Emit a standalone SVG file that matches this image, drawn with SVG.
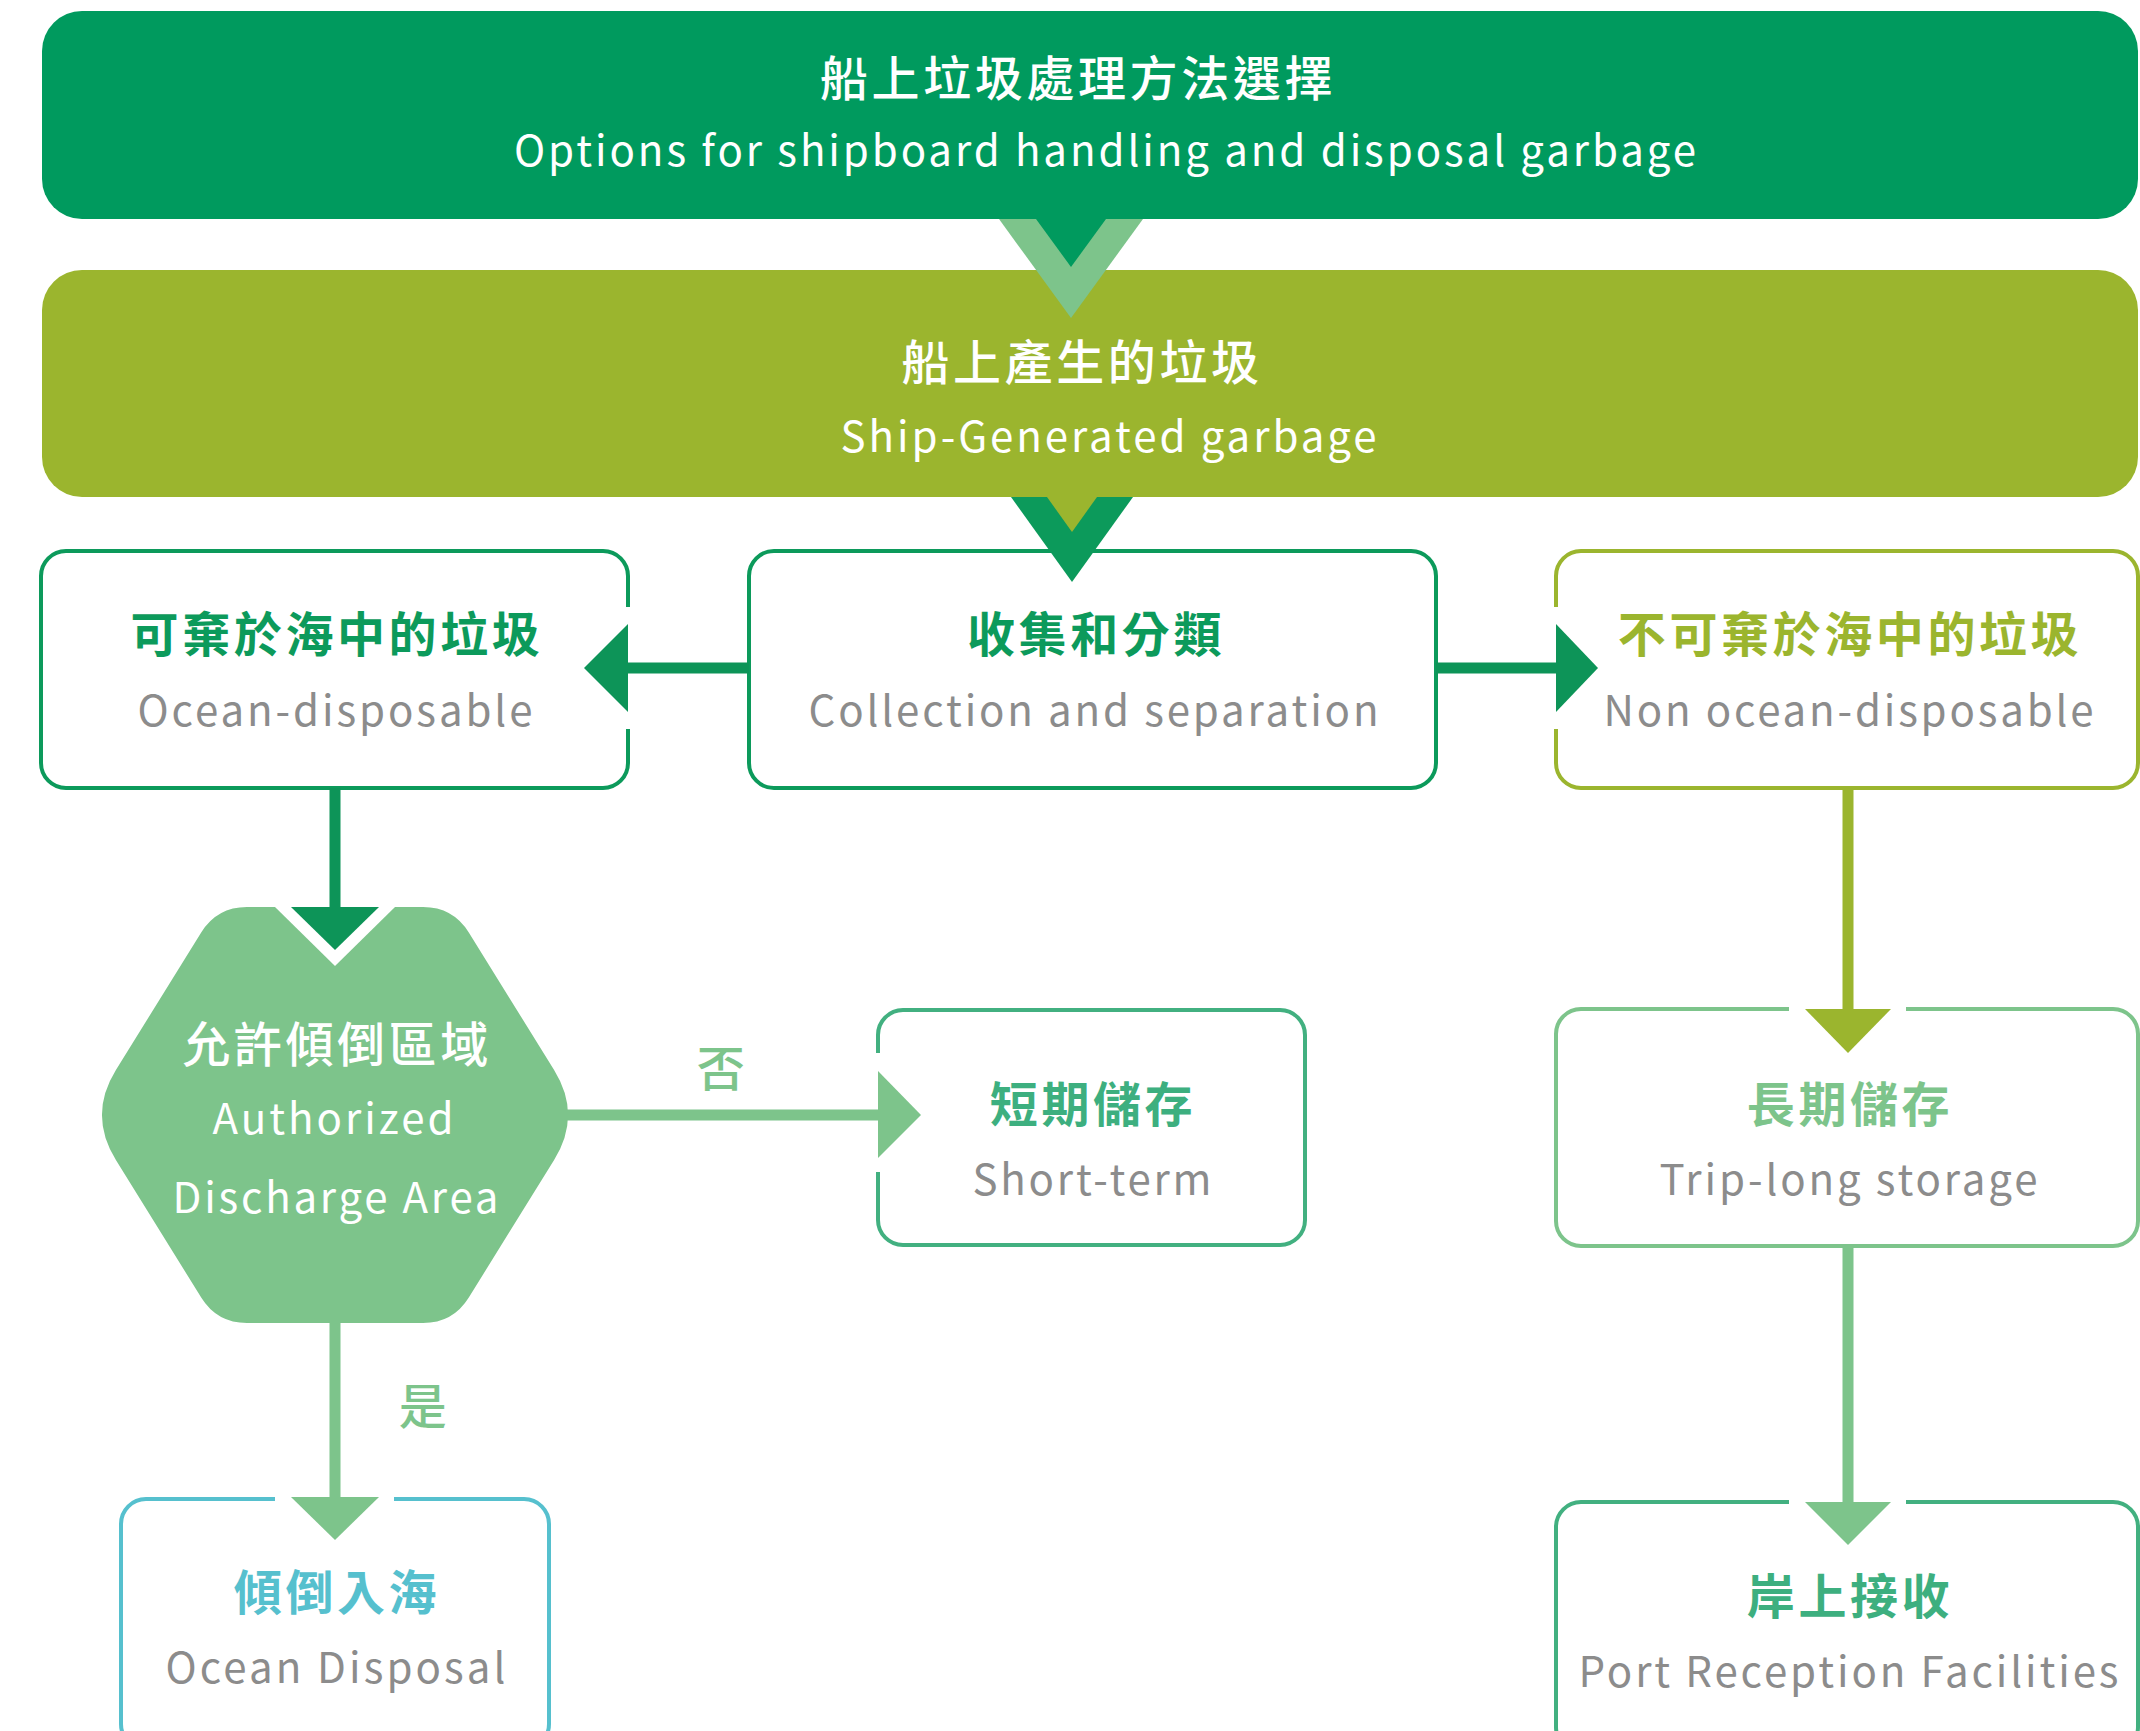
<svg xmlns="http://www.w3.org/2000/svg" width="2140" height="1731" viewBox="0 0 2140 1731">
<style>
text{font-family:"Noto Sans CJK TC","Noto Sans",sans-serif;text-anchor:middle}
.zh{font-size:48px;letter-spacing:3.6px}
.en{font-size:42px}
.b{font-weight:700}
.m{font-weight:500}
.w{fill:#ffffff}
.g{fill:#8c8c8c}
.box{fill:#ffffff;stroke-width:4}
</style>
<rect width="2140" height="1731" fill="#ffffff"/>

<g id="node-options">
<rect x="42" y="11" width="2096" height="208" rx="40" fill="#009a5e"/>
<text class="zh w m" x="1078" y="96">船上垃圾處理方法選擇</text>
<text class="en w" x="1105" y="166" textLength="1182" lengthAdjust="spacing">Options for shipboard handling and disposal garbage</text>
</g>

<g id="node-generated">
<rect x="42" y="270" width="2096" height="227" rx="40" fill="#9bb52e"/>
<text class="zh w m" x="1082" y="380">船上產生的垃圾</text>
<text class="en w" x="1108.5" y="452" textLength="536" lengthAdjust="spacing">Ship-Generated garbage</text>
</g>

<g id="node-ocean-disposable">
<rect class="box" x="41" y="551" width="587" height="237" rx="25" stroke="#0c9a5b"/>
<text class="zh b" x="337" y="652" fill="#0c9a5b">可棄於海中的垃圾</text>
<text class="en g" x="335" y="726" textLength="395" lengthAdjust="spacing">Ocean-disposable</text>
</g>

<g id="node-collection">
<rect class="box" x="749" y="551" width="687" height="237" rx="25" stroke="#0c9a5b"/>
<text class="zh b" x="1096" y="652" fill="#0c9a5b">收集和分類</text>
<text class="en g" x="1093.5" y="726" textLength="570" lengthAdjust="spacing">Collection and separation</text>
</g>

<g id="node-non-ocean">
<rect class="box" x="1556" y="551" width="582" height="237" rx="25" stroke="#9bb52e"/>
<text class="zh b" x="1850" y="652" fill="#9bb52e">不可棄於海中的垃圾</text>
<text class="en g" x="1848.5" y="726" textLength="490" lengthAdjust="spacing">Non ocean-disposable</text>
</g>

<g id="node-authorized">
<path d="M247,907 L423,907 Q453,907 468.8,932.5 L554.1,1070 Q582,1115 554.1,1160 L468.8,1297.5 Q453,1323 423,1323 L247,1323 Q217,1323 201.2,1297.5 L115.9,1160 Q88,1115 115.9,1070 L201.2,932.5 Q217,907 247,907 Z" fill="#7dc48b"/>
<text class="zh w m" x="337" y="1062">允許傾倒區域</text>
<text class="en w" x="333" y="1134" textLength="241" lengthAdjust="spacing">Authorized</text>
<text class="en w" x="335.5" y="1213" textLength="326" lengthAdjust="spacing">Discharge Area</text>
</g>

<g id="node-short-term">
<rect class="box" x="878" y="1010" width="427" height="235" rx="25" stroke="#42b080"/>
<text class="zh b" x="1093" y="1122" fill="#3daf7f">短期儲存</text>
<text class="en g" x="1092" y="1195" textLength="239" lengthAdjust="spacing">Short-term</text>
</g>

<g id="node-long-term">
<rect class="box" x="1556" y="1009" width="582" height="237" rx="25" stroke="#7dc48b"/>
<text class="zh b" x="1850" y="1122" fill="#7dc48b">長期儲存</text>
<text class="en g" x="1848.5" y="1195" textLength="378" lengthAdjust="spacing">Trip-long storage</text>
</g>

<g id="node-ocean-disposal">
<rect class="box" x="121" y="1499" width="428" height="250" rx="25" stroke="#56c0ce"/>
<text class="zh b" x="337" y="1610" fill="#56c0ce">傾倒入海</text>
<text class="en g" x="335.5" y="1683" textLength="340" lengthAdjust="spacing">Ocean Disposal</text>
</g>

<g id="node-port">
<rect class="box" x="1556" y="1502" width="582" height="250" rx="25" stroke="#42b080"/>
<text class="zh b" x="1850" y="1614" fill="#3daf7f">岸上接收</text>
<text class="en g" x="1848.5" y="1687" textLength="540" lengthAdjust="spacing">Port Reception Facilities</text>
</g>

<g id="connectors">
<!-- options -> generated -->
<polygon points="999,219 1143,219 1071,318" fill="#7dc48b"/>
<polygon points="1036,219 1106,219 1071,267" fill="#009a5e"/>
<!-- generated -> collection -->
<polygon points="1011,497 1133,497 1072,582" fill="#0c9a5b"/>
<polygon points="1047,497 1097,497 1072,532" fill="#9bb52e"/>
<!-- collection -> ocean-disposable -->
<rect x="620" y="607" width="16" height="122" fill="#ffffff"/>
<line x1="749" y1="668" x2="626" y2="668" stroke="#0d9458" stroke-width="11"/>
<polygon points="628,624 628,712 584,668" fill="#0d9458"/>
<!-- collection -> non-ocean -->
<rect x="1548" y="607" width="16" height="122" fill="#ffffff"/>
<line x1="1436" y1="668" x2="1558" y2="668" stroke="#0d9458" stroke-width="11"/>
<polygon points="1556,624 1556,712 1598,668" fill="#0d9458"/>
<!-- ocean-disposable -> authorized -->
<line x1="335" y1="788" x2="335" y2="909" stroke="#0d9458" stroke-width="11"/>
<polygon points="275,907 395,907 335,966" fill="#ffffff"/>
<polygon points="291,907 379,907 335,950" fill="#0d9458"/>
<!-- authorized -> short-term (否) -->
<rect x="870" y="1053" width="16" height="119" fill="#ffffff"/>
<line x1="560" y1="1115" x2="880" y2="1115" stroke="#7dc48b" stroke-width="11"/>
<polygon points="878,1071 878,1158 921,1115" fill="#7dc48b"/>
<text class="zh m" x="722.5" y="1086" fill="#7dc48b" letter-spacing="0">否</text>
<!-- authorized -> ocean disposal (是) -->
<rect x="275" y="1493" width="119" height="12" fill="#ffffff"/>
<line x1="335" y1="1320" x2="335" y2="1499" stroke="#7dc48b" stroke-width="11"/>
<polygon points="291,1497 379,1497 335,1540" fill="#7dc48b"/>
<text class="zh m" x="424.5" y="1424" fill="#7dc48b" letter-spacing="0">是</text>
<!-- non-ocean -> long-term -->
<rect x="1789" y="1003" width="117" height="12" fill="#ffffff"/>
<line x1="1848" y1="788" x2="1848" y2="1011" stroke="#9bb52e" stroke-width="11"/>
<polygon points="1805,1009 1891,1009 1848,1053" fill="#9bb52e"/>
<!-- long-term -> port -->
<rect x="1789" y="1496" width="117" height="12" fill="#ffffff"/>
<line x1="1848" y1="1246" x2="1848" y2="1504" stroke="#7dc48b" stroke-width="11"/>
<polygon points="1805,1502 1891,1502 1848,1545" fill="#7dc48b"/>
</g>
</svg>
